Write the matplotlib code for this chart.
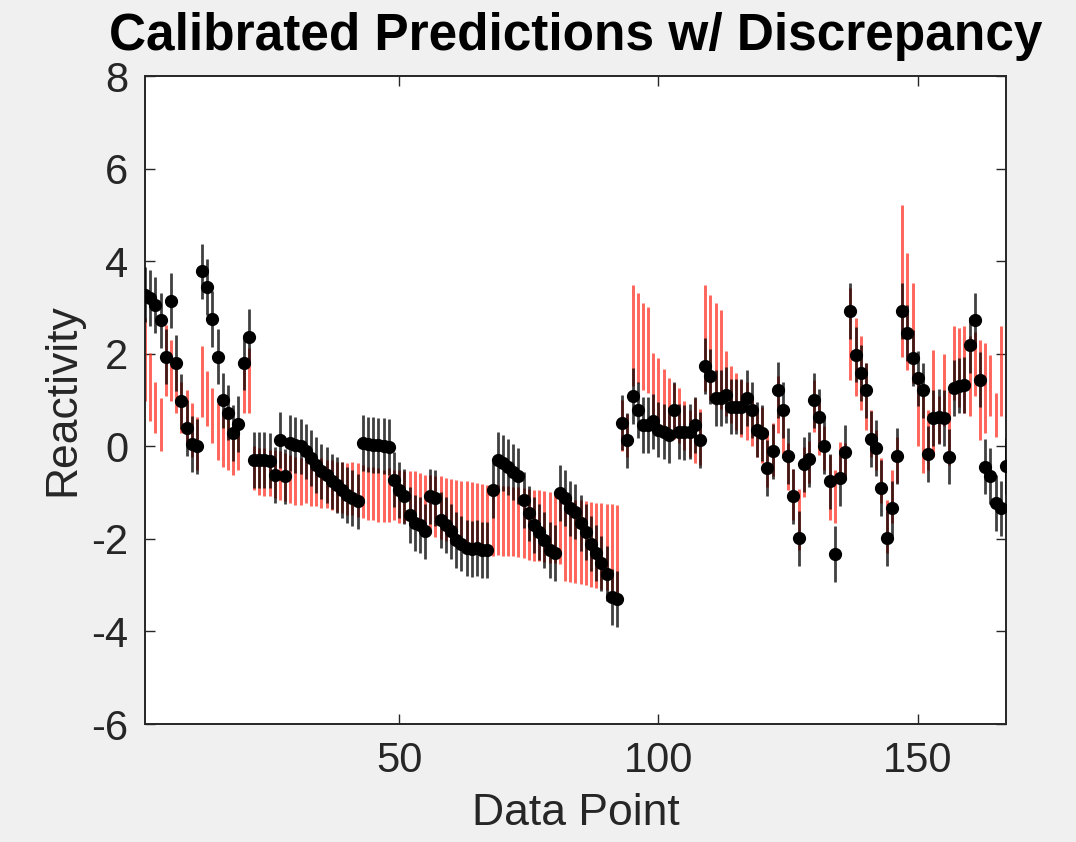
import matplotlib
matplotlib.use("Agg")
import matplotlib.pyplot as plt
import numpy as np

# Measured reactivity at each data point (black dots)
obs = [
    3.28, 3.20, 3.05, 2.72, 1.94, 3.15, 1.80, 0.97, 0.40, 0.05,
    0.00, 3.78, 3.44, 2.75, 1.94, 0.99, 0.73, 0.29, 0.48, 1.81,
    2.36, -0.29, -0.29, -0.30, -0.31, -0.62, 0.14, -0.65, 0.07, 0.03,
    0.00, -0.11, -0.25, -0.40, -0.54, -0.62, -0.76, -0.83, -0.94, -1.05,
    -1.12, -1.19, 0.07, 0.04, 0.03, 0.02, 0.01, -0.02, -0.72, -0.94,
    -1.08, -1.48, -1.66, -1.70, -1.84, -1.08, -1.12, -1.59, -1.70, -1.84,
    -2.02, -2.10, -2.20, -2.22, -2.20, -2.24, -2.24, -0.94, -0.30, -0.36,
    -0.45, -0.55, -0.64, -1.16, -1.45, -1.70, -1.85, -2.02, -2.24, -2.31,
    -1.01, -1.12, -1.34, -1.41, -1.66, -1.85, -2.10, -2.31, -2.53, -2.75,
    -3.25, -3.30, 0.51, 0.13, 1.09, 0.79, 0.46, 0.46, 0.54, 0.36,
    0.32, 0.25, 0.79, 0.32, 0.30, 0.32, 0.46, 0.14, 1.73, 1.51,
    1.04, 1.04, 1.11, 0.86, 0.86, 0.86, 1.04, 0.79, 0.36, 0.29,
    -0.47, -0.11, 1.22, 0.79, -0.21, -1.08, -1.99, -0.39, -0.28, 0.99,
    0.64, 0.00, -0.76, -2.33, -0.69, -0.13, 2.92, 1.98, 1.58, 1.21,
    0.16, -0.04, -0.90, -1.99, -1.34, -0.21, 2.92, 2.45, 1.91, 1.47,
    1.21, -0.17, 0.61, 0.64, 0.61, -0.22, 1.26, 1.31, 1.33, 2.19,
    2.72, 1.44, -0.44, -0.64, -1.23, -1.34, -0.42,
]
obs_err = 0.6  # half-width of the measurement error bars

# Calibrated prediction interval with discrepancy (red bars)
pred_lo = [
    0.97, 0.54, 0.28, -0.11, 1.08, 0.97, 0.72, 0.28, 0.07, -0.22,
    -0.51, 0.64, 0.43, 0.07, -0.29, -0.44, -0.51, -0.62, -0.51, 0.72,
    0.72, -0.94, -1.05, -1.08, -1.08, -1.12, -1.16, -1.19, -1.23, -1.26,
    -1.26, -1.23, -1.30, -1.30, -1.34, -1.34, -1.37, -1.41, -1.45, -1.48,
    -1.48, -1.52, -1.55, -1.59, -1.59, -1.63, -1.63, -1.63, -1.59, -1.66,
    -1.66, -1.70, -1.70, -1.73, -1.80, -1.90, -1.95, -2.00, -2.05, -2.10,
    -2.14, -2.17, -2.20, -2.24, -2.28, -2.32, -2.35, -2.36, -2.35, -2.36,
    -2.38, -2.38, -2.40, -2.42, -2.45, -2.47, -2.48, -2.50, -2.52, -2.53,
    -2.55, -2.92, -2.94, -2.96, -2.98, -3.00, -3.03, -3.06, -3.08, -3.10,
    -3.13, -3.17, -0.11, -0.24, 1.30, 1.37, 1.22, 1.15, 0.65, 0.50,
    0.43, 0.21, 0.15, 0.07, -0.08, -0.22, -0.36, -0.40, 1.20, 1.00,
    0.90, 0.80, 0.65, 0.50, 0.36, 0.21, 0.14, 0.00, -0.22, -0.36,
    -0.87, -0.65, 0.29, -0.22, -0.94, -1.60, -2.24, -1.10, -0.79, 0.32,
    -0.18, -0.51, -1.59, -1.66, -0.79, -0.65, 1.44, 1.08, 0.79, 0.36,
    -0.22, -0.51, -1.23, -2.31, -1.66, -0.79, 1.94, 1.65, 1.37, 0.00,
    -0.58, -0.51, -0.22, 0.07, 0.43, -0.40, 1.00, 0.86, 0.72, 0.65,
    1.08, 0.14, 0.29, 0.65, 0.21, 0.65, 0.57,
]
pred_hi = [
    2.77, 2.01, 1.40, 1.04, 2.63, 2.30, 1.80, 1.40, 1.22, 0.93,
    0.64, 2.16, 1.62, 1.26, 0.93, 0.68, 0.60, 0.50, 0.39, 1.94,
    2.12, 0.00, -0.04, -0.04, -0.08, -0.08, -0.11, -0.15, -0.18, -0.22,
    -0.26, -0.29, -0.29, -0.22, -0.26, -0.29, -0.29, -0.33, -0.33, -0.36,
    -0.33, -0.36, -0.40, -0.44, -0.44, -0.47, -0.51, -0.47, -0.51, -0.51,
    -0.54, -0.54, -0.54, -0.58, -0.62, -0.62, -0.65, -0.65, -0.68, -0.70,
    -0.72, -0.74, -0.76, -0.78, -0.80, -0.82, -0.83, -0.85, -0.83, -0.85,
    -0.86, -0.87, -0.88, -0.90, -0.92, -0.94, -0.95, -0.96, -0.98, -0.98,
    -1.00, -1.12, -1.14, -1.16, -1.16, -1.18, -1.20, -1.22, -1.23, -1.24,
    -1.25, -1.26, 1.01, 0.70, 3.49, 3.31, 3.10, 3.00, 2.02, 1.90,
    1.66, 1.47, 1.36, 1.26, 0.97, 0.79, 1.04, 0.80, 3.49, 3.28,
    3.10, 2.95, 2.05, 1.73, 1.58, 1.44, 1.40, 1.11, 0.86, 0.86,
    0.36, 0.50, 1.51, 0.79, 0.07, -0.50, -0.92, -0.02, 0.12, 1.44,
    0.93, 0.43, -0.18, -0.51, 0.10, 0.07, 3.42, 2.77, 2.38, 1.80,
    0.79, 0.36, -0.25, -1.16, -0.51, 0.21, 5.22, 4.18, 3.53, 1.51,
    1.22, 0.79, 2.09, 1.08, 2.00, 1.20, 2.59, 2.56, 2.59, 2.38,
    2.48, 2.30, 2.23, 1.98, 1.15, 2.59, 2.01,
]

x_ticks = [50, 100, 150]
y_ticks = [-6, -4, -2, 0, 2, 4, 6, 8]

plt.rcParams["font.family"] = ["Liberation Sans", "DejaVu Sans"]
plt.rcParams["axes.unicode_minus"] = False

obs = np.asarray(obs)
pred_lo = np.asarray(pred_lo)
pred_hi = np.asarray(pred_hi)
points = np.arange(1, len(obs) + 1)

fig = plt.figure(figsize=(10.76, 8.42), dpi=100, facecolor="#f0f0f0")
ax = fig.add_axes([0.1348, 0.1401, 0.8001, 0.7696])
ax.set_facecolor("white")

ax.vlines(points, pred_lo, pred_hi, colors="#ff2a1a", linewidth=2.1, alpha=0.72, zorder=2)
ax.vlines(points, obs - obs_err, obs + obs_err, colors="black", linewidth=2.0,
          alpha=0.75, zorder=3)
ax.plot(points, obs, "o", color="black", markersize=8.5, zorder=4)

ax.set_xlim(1, len(obs))
ax.set_ylim(-6, 8)
ax.set_xticks(x_ticks)
ax.set_yticks(y_ticks)
ax.tick_params(direction="in", length=7, width=1.0, top=True, right=True,
               labelsize=30, colors="#262626", pad=12)
for spine in ax.spines.values():
    spine.set_linewidth(1.4)
    spine.set_color("#262626")

ax.set_xlabel("Data Point", fontsize=32, color="#262626", labelpad=9)
ax.set_ylabel("Reactivity", fontsize=32, color="#262626", labelpad=6)
ax.set_title("Calibrated Predictions w/ Discrepancy", fontsize=37,
             fontweight="bold", pad=19)

fig.savefig("out.png", dpi=100, facecolor=fig.get_facecolor())
